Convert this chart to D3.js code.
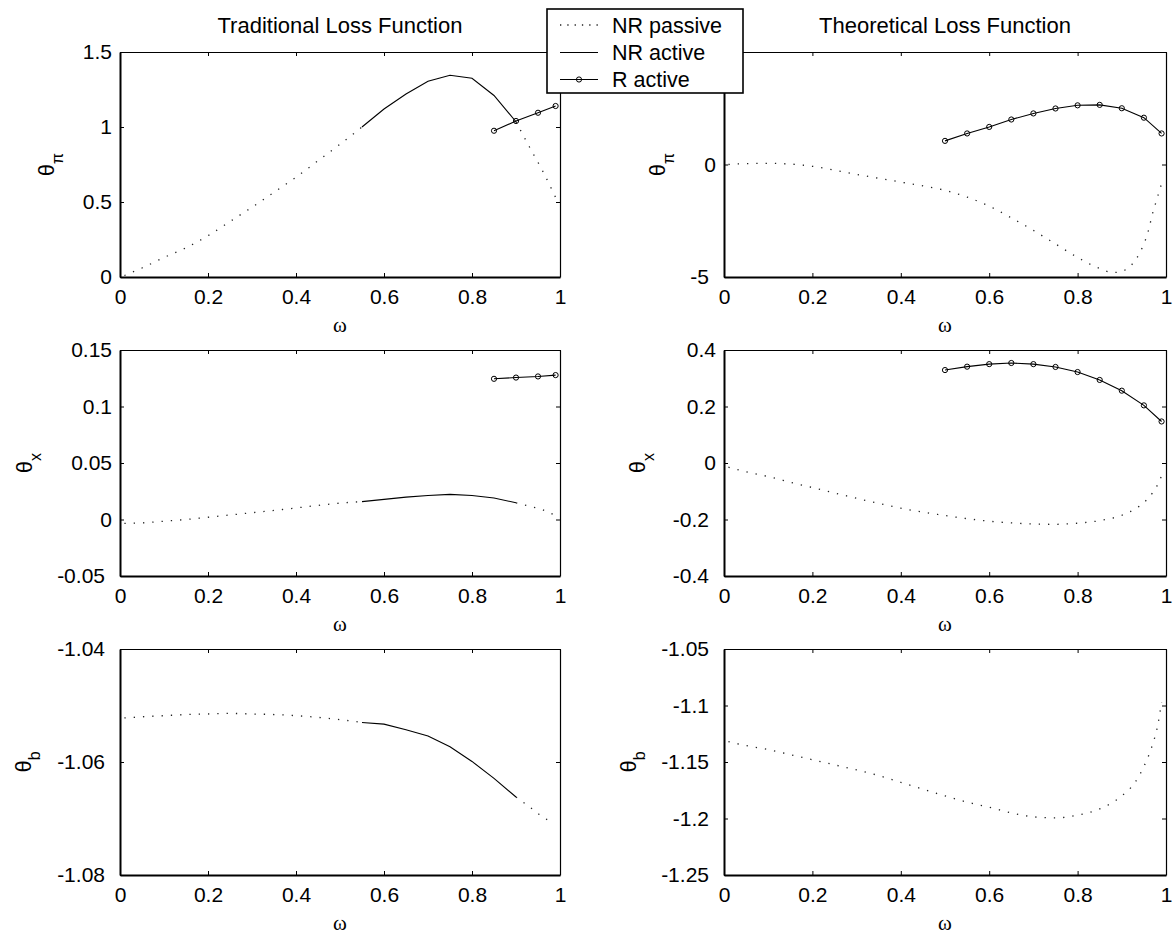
<!DOCTYPE html>
<html>
<head>
<meta charset="utf-8">
<title>Loss function coefficients</title>
<script src="https://d3js.org/d3.v7.min.js"></script>
<style>
  body { margin: 0; background: #fff; }
  svg text { font-family: "Liberation Sans", Arial, sans-serif; fill: #000; }
</style>
</head>
<body>
<svg id="chart" width="1175" height="936"></svg>
<script>
  // ---- data: omega grids and coefficient values ----
  const xTicks = [0, 0.2, 0.4, 0.6, 0.8, 1];

  // traditional loss function
  const tradPassiveW = [0.01, 0.05, 0.10, 0.15, 0.20, 0.25, 0.30, 0.35, 0.40, 0.45, 0.50, 0.55,
    0.60, 0.65, 0.70, 0.75, 0.80, 0.85, 0.90, 0.93, 0.96, 0.99];
  const tradPiPassive = [0.01, 0.06, 0.13, 0.195, 0.275, 0.37, 0.465, 0.565, 0.665, 0.775, 0.885, 1.0,
    null, null, null, null, null, null, 1.035, 0.87, 0.71, 0.53];
  const tradXPassive = [-0.0035, -0.003, -0.0015, 0.0, 0.002, 0.004, 0.006, 0.008, 0.0102, 0.0125, 0.0145, 0.0158,
    null, null, null, null, null, null, 0.0148, 0.0118, 0.0086, 0.0035];
  const tradBPassiveW = [0.01, 0.05, 0.10, 0.15, 0.20, 0.25, 0.30, 0.35, 0.40, 0.45, 0.50, 0.55,
    0.60, 0.65, 0.70, 0.75, 0.80, 0.85, 0.90, 0.93, 0.955, 0.975];
  const tradBPassive = [-1.0522, -1.0520, -1.0518, -1.0516, -1.0515, -1.0514, -1.0515, -1.0516, -1.0518, -1.0521, -1.0525, -1.0530,
    null, null, null, null, null, null, -1.0662, -1.0679, -1.0694, -1.0704];

  const tradActiveW = [0.55, 0.60, 0.65, 0.70, 0.75, 0.80, 0.85, 0.90];
  const tradPiActive = [1.0, 1.12, 1.22, 1.305, 1.345, 1.325, 1.21, 1.035];
  const tradXActive = [0.0158, 0.0178, 0.0198, 0.0213, 0.0222, 0.0213, 0.019, 0.0148];
  const tradBActive = [-1.0530, -1.0533, -1.0543, -1.0554, -1.0573, -1.0599, -1.0629, -1.0662];

  const tradRW = [0.85, 0.90, 0.95, 0.99];
  const tradPiR = [0.975, 1.04, 1.095, 1.14];
  const tradXR = [0.1245, 0.1256, 0.1266, 0.1278];

  // theoretical loss function
  const theoPassiveW = [0.01, 0.05, 0.10, 0.15, 0.20, 0.25, 0.30, 0.35, 0.40, 0.45, 0.50, 0.55,
    0.60, 0.65, 0.70, 0.75, 0.80, 0.85, 0.88, 0.90, 0.92, 0.94, 0.96, 0.97, 0.98, 0.99];
  const theoPiPassive = [0.0, 0.04, 0.05, 0.02, -0.08, -0.25, -0.44, -0.61, -0.78, -0.95, -1.15, -1.45,
    -1.85, -2.37, -2.93, -3.53, -4.13, -4.62, -4.8, -4.75, -4.5, -3.95, -2.95, -2.15, -1.5, -0.85];
  const theoXPassiveW = [0.01, 0.05, 0.10, 0.15, 0.20, 0.25, 0.30, 0.35, 0.40, 0.45, 0.50, 0.55,
    0.60, 0.65, 0.70, 0.75, 0.80, 0.85, 0.90, 0.93, 0.95, 0.97, 0.98, 0.99];
  const theoXPassive = [-0.015, -0.031, -0.048, -0.068, -0.087, -0.106, -0.125, -0.143, -0.16, -0.174, -0.186, -0.197,
    -0.206, -0.212, -0.216, -0.217, -0.213, -0.204, -0.185, -0.163, -0.14, -0.105, -0.08, -0.045];
  const theoBPassive = [-1.132, -1.1355, -1.139, -1.1435, -1.148, -1.1525, -1.157, -1.162, -1.168, -1.174, -1.18, -1.1855,
    -1.19, -1.195, -1.1985, -1.1995, -1.197, -1.1915, -1.18, -1.168, -1.154, -1.134, -1.12, -1.097];

  const theoRW = [0.50, 0.55, 0.60, 0.65, 0.70, 0.75, 0.80, 0.85, 0.90, 0.95, 0.99];
  const theoPiR = [1.05, 1.38, 1.67, 2.0, 2.27, 2.49, 2.63, 2.65, 2.5, 2.08, 1.38];
  const theoXR = [0.329, 0.341, 0.35, 0.354, 0.35, 0.34, 0.322, 0.294, 0.256, 0.204, 0.147];

  const titles = ["Traditional Loss Function", "Theoretical Loss Function"];
  const legendLabels = ["NR passive", "NR active", "R active"];

  // ---- layout ----
  const cols = [{ left: 120, right: 560 }, { left: 724, right: 1166 }];
  const rows = [{ top: 52, bottom: 277 }, { top: 350, bottom: 576 }, { top: 649, bottom: 875 }];

  const zip = (w, v) => w.map((d, i) => [d, v[i]]);

  const panels = [
    { col: 0, row: 0, domain: [0, 1.5], ticks: [0, 0.5, 1, 1.5], sub: "\u03c0", labX: 46,
      passive: zip(tradPassiveW, tradPiPassive), active: zip(tradActiveW, tradPiActive), r: zip(tradRW, tradPiR) },
    { col: 1, row: 0, domain: [-5, 5], ticks: [-5, 0, 5], sub: "\u03c0", labX: 657,
      passive: zip(theoPassiveW, theoPiPassive), active: null, r: zip(theoRW, theoPiR) },
    { col: 0, row: 1, domain: [-0.05, 0.15], ticks: [-0.05, 0, 0.05, 0.1, 0.15], sub: "x", labX: 24,
      passive: zip(tradPassiveW, tradXPassive), active: zip(tradActiveW, tradXActive), r: zip(tradRW, tradXR) },
    { col: 1, row: 1, domain: [-0.4, 0.4], ticks: [-0.4, -0.2, 0, 0.2, 0.4], sub: "x", labX: 637,
      passive: zip(theoXPassiveW, theoXPassive), active: null, r: zip(theoRW, theoXR) },
    { col: 0, row: 2, domain: [-1.08, -1.04], ticks: [-1.08, -1.06, -1.04], sub: "b", labX: 23,
      passive: zip(tradBPassiveW, tradBPassive), active: zip(tradActiveW, tradBActive), r: null },
    { col: 1, row: 2, domain: [-1.25, -1.05], ticks: [-1.25, -1.2, -1.15, -1.1, -1.05], sub: "b", labX: 628,
      passive: zip(theoXPassiveW, theoBPassive), active: null, r: null }
  ];

  const fmt = v => String(+v.toFixed(4));
  const svg = d3.select("#chart");
  const dotted = { stroke: "#222", width: 1.3, dash: "1.3,8" };

  panels.forEach(p => {
    const c = cols[p.col], r = rows[p.row];
    const x = d3.scaleLinear().domain([0, 1]).range([c.left, c.right]);
    const y = d3.scaleLinear().domain(p.domain).range([r.bottom, r.top]);
    const g = svg.append("g");

    const line = d3.line()
      .defined(d => d[1] != null)
      .x(d => x(d[0]))
      .y(d => y(d[1]));
    const smooth = d3.line()
      .defined(d => d[1] != null)
      .curve(d3.curveMonotoneX)
      .x(d => x(d[0]))
      .y(d => y(d[1]));

    // frame: inward ticks on all four sides
    const bottom = g.append("g").attr("transform", `translate(0,${r.bottom})`)
      .call(d3.axisBottom(x).tickValues(xTicks).tickFormat(fmt).tickSizeInner(-4).tickSizeOuter(0).tickPadding(12));
    const top = g.append("g").attr("transform", `translate(0,${r.top})`)
      .call(d3.axisTop(x).tickValues(xTicks).tickFormat(() => "").tickSizeInner(-4).tickSizeOuter(0));
    const left = g.append("g").attr("transform", `translate(${c.left},0)`)
      .call(d3.axisLeft(y).tickValues(p.ticks).tickFormat(fmt).tickSizeInner(-4).tickSizeOuter(0).tickPadding(8));
    const right = g.append("g").attr("transform", `translate(${c.right},0)`)
      .call(d3.axisRight(y).tickValues(p.ticks).tickFormat(() => "").tickSizeInner(-4).tickSizeOuter(0));

    [bottom, left].forEach(a => a.select(".domain").attr("stroke-width", 2));
    [top, right].forEach(a => a.select(".domain").attr("stroke-width", 1.2));
    g.selectAll(".tick line").attr("stroke-width", 1);
    g.selectAll(".tick text").attr("font-size", 21);
    left.selectAll(".tick text").attr("dx", d => d < 0 ? -7 : 0);

    // NR passive
    g.append("path").datum(p.passive)
      .attr("d", smooth)
      .attr("fill", "none")
      .attr("stroke", dotted.stroke)
      .attr("stroke-width", dotted.width)
      .attr("stroke-dasharray", dotted.dash);

    // NR active
    if (p.active) {
      g.append("path").datum(p.active)
        .attr("d", line)
        .attr("fill", "none")
        .attr("stroke", "#000")
        .attr("stroke-width", 1.1);
    }

    // R active with circle markers
    if (p.r) {
      g.append("path").datum(p.r)
        .attr("d", line)
        .attr("fill", "none")
        .attr("stroke", "#000")
        .attr("stroke-width", 1.1);
      g.selectAll(".mk").data(p.r).enter().append("circle")
        .attr("cx", d => x(d[0]))
        .attr("cy", d => y(d[1]))
        .attr("r", 2.6)
        .attr("fill", "none")
        .attr("stroke", "#000")
        .attr("stroke-width", 1);
    }

    // omega label
    g.append("text")
      .attr("x", (c.left + c.right) / 2)
      .attr("y", r.bottom + 54.5)
      .attr("text-anchor", "middle")
      .style("font-family", "'Liberation Serif', 'Times New Roman', serif")
      .attr("font-size", 21)
      .text("\u03c9");

    // theta label with subscript
    const ylab = g.append("text")
      .attr("transform", `translate(${p.labX},${(r.top + r.bottom) / 2}) rotate(-90)`)
      .attr("text-anchor", "middle")
      .attr("font-size", 22);
    ylab.append("tspan").attr("dy", "0.35em").text("\u03b8");
    ylab.append("tspan").attr("dy", "0.6em").attr("font-size", 16).text(p.sub);

    if (p.row === 0) {
      g.append("text")
        .attr("x", (c.left + c.right) / 2)
        .attr("y", 33)
        .attr("text-anchor", "middle")
        .attr("font-size", 22)
        .text(titles[p.col]);
    }
  });

  // ---- legend ----
  const lg = svg.append("g");
  lg.append("rect")
    .attr("x", 547).attr("y", 9)
    .attr("width", 196).attr("height", 84)
    .attr("fill", "#fff")
    .attr("stroke", "#000")
    .attr("stroke-width", 1.6);

  const rowsY = [25, 52.5, 79.5];
  legendLabels.forEach((name, i) => {
    const ly = rowsY[i];
    const sample = lg.append("line")
      .attr("x1", 560).attr("x2", 598)
      .attr("y1", ly).attr("y2", ly)
      .attr("fill", "none");
    if (i === 0) {
      sample.attr("stroke", dotted.stroke).attr("stroke-width", dotted.width).attr("stroke-dasharray", "1.3,6");
    } else {
      sample.attr("stroke", "#000").attr("stroke-width", 1.1);
    }
    if (i === 2) {
      lg.append("circle").attr("cx", 579).attr("cy", ly).attr("r", 2.6)
        .attr("fill", "none").attr("stroke", "#000").attr("stroke-width", 1);
    }
    lg.append("text")
      .attr("x", 612).attr("y", ly)
      .attr("dy", "0.36em")
      .attr("font-size", 21.5)
      .text(name);
  });
</script>
</body>
</html>
